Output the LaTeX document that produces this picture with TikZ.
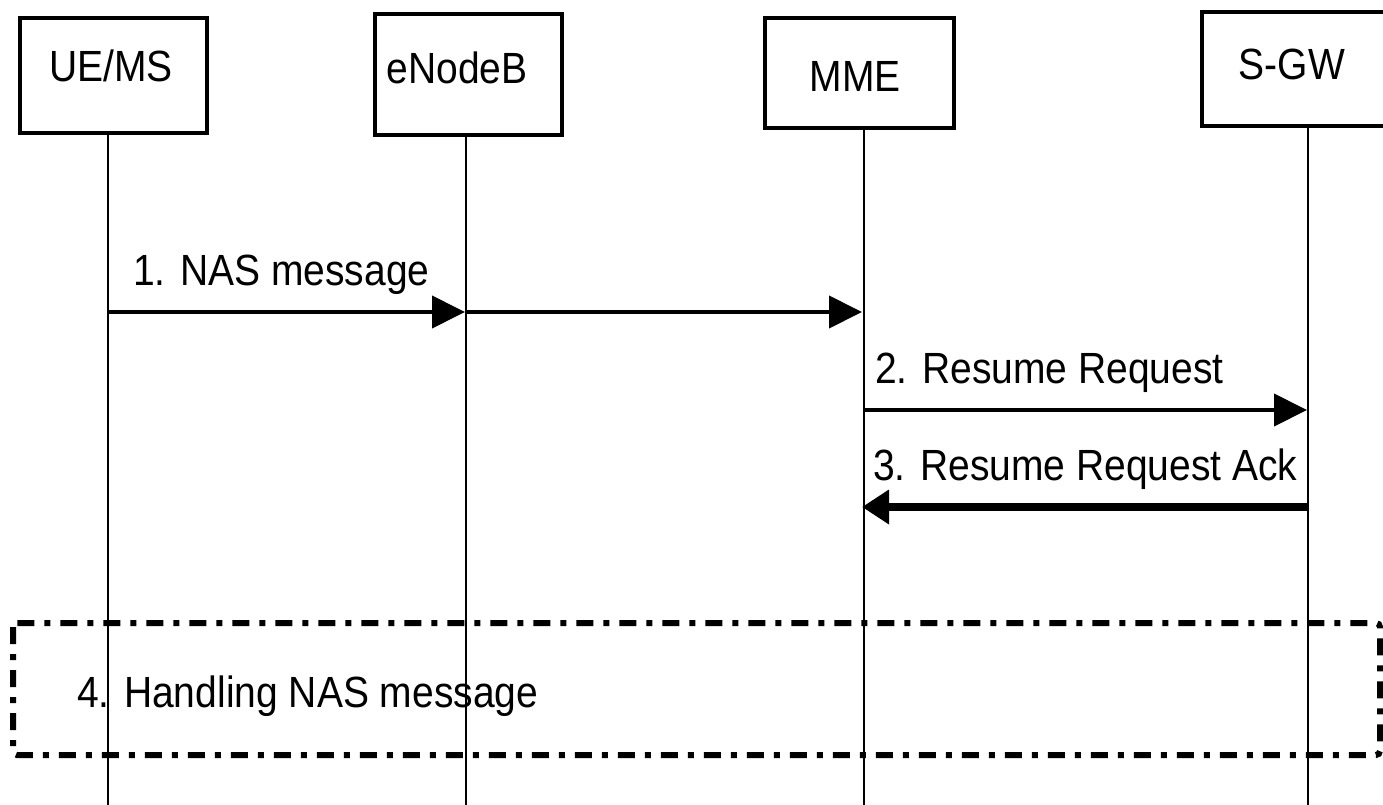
\documentclass[tikz,border=0pt]{standalone}
\usepackage{fontspec}
\usepackage{graphicx}
\setmainfont{Liberation Sans}
\usetikzlibrary{arrows.meta}
\newcommand{\tallt}[1]{\scalebox{1}[1.12]{#1}}
\tikzset{
  entity/.style={draw, line width=3.5pt, inner sep=0pt, minimum width=#1},
  lbl/.style={inner sep=0pt, anchor=base west, font=\fontsize{39}{47}\selectfont},
  ttl/.style={inner sep=0pt, font=\fontsize{39}{47}\selectfont},
  lifeline/.style={line width=2.5pt},
  msg/.style={line width=4pt, -{Triangle[length=33pt,width=32pt]}},
  msgthick/.style={line width=7.5pt, -{Triangle[length=27pt,width=33pt]}},
  phase/.style={line width=6pt, rounded corners=4pt, dash pattern=on 17pt off 10pt on 6pt off 10pt}
}
\begin{document}
\begin{tikzpicture}[x=1pt,y=-1pt]
\useasboundingbox (0,0) rectangle (1383,805);
% entity boxes
\node[entity=187pt, minimum height=115pt] (ue)  at (113.5,75.5) {};
\node[entity=187pt, minimum height=121pt] (enb) at (468.5,74.5) {};
\node[entity=189pt, minimum height=110pt] (mme) at (859.5,73) {};
\node[entity=190pt, minimum height=114pt] (sgw) at (1297,69) {};
\node[ttl] (tue)  at (111,66)  {\tallt{UE/MS}};
\node[ttl] (tenb) at (457,68)  {\tallt{eNodeB}};
\node[ttl] (tmme) at (855,76)  {\tallt{MME}};
\node[ttl] (tsgw) at (1292,64) {\tallt{S-GW}};
% lifelines
\coordinate (ueT)  at (108,133);  \coordinate (ueB)  at (108,805);
\coordinate (enbT) at (466,135);  \coordinate (enbB) at (466,805);
\coordinate (mmeT) at (864,128);  \coordinate (mmeB) at (864,805);
\coordinate (sgwT) at (1308,126); \coordinate (sgwB) at (1308,805);
\draw[lifeline] (ueT) -- (ueB);
\draw[lifeline] (enbT) -- (enbB);
\draw[lifeline] (mmeT) -- (mmeB);
\draw[lifeline] (sgwT) -- (sgwB);
% messages
\coordinate (m1a) at (108,312);
\coordinate (m1b) at (465,312);
\coordinate (m1c) at (862,312);
\draw[msg] (m1a) -- (m1b);
\draw[msg] (m1b) -- (m1c);
\node[lbl] (l1) at (133,285) {\tallt{1. NAS message}};
\coordinate (m2a) at (864,410);
\coordinate (m2b) at (1307,410);
\draw[msg] (m2a) -- (m2b);
\node[lbl] (l2) at (875,383) {\tallt{2. Resume Request}};
\coordinate (m3a) at (1308,507);
\coordinate (m3b) at (862,507);
\draw[msgthick] (m3a) -- (m3b);
\node[lbl] (l3) at (873,480) {\tallt{3. Resume Request Ack}};
% handling box
\draw[phase] (13,623) rectangle (1380,755);
\node[lbl] (l4) at (77,707) {\tallt{4. Handling NAS message}};
\end{tikzpicture}
\end{document}
